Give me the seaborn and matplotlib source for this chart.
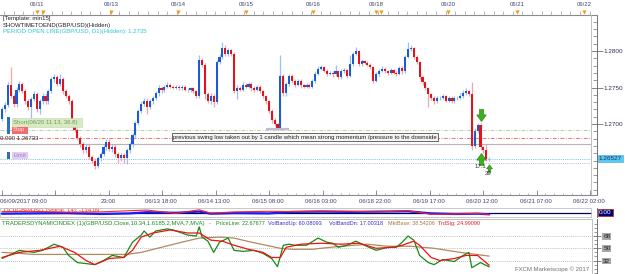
import numpy as np
import pandas as pd
import matplotlib
matplotlib.use("Agg")
import matplotlib.pyplot as plt
from matplotlib.patches import Rectangle
import seaborn as sns

sns.set_style("white")
plt.rcParams['font.family'] = ['Liberation Sans', 'DejaVu Sans']

# GBP/USD hourly candles (open of each bar = previous close)
first_open = 1.2707
closes = [1.2720, 1.2726, 1.2753, 1.2738, 1.2727, 1.2747, 1.2755, 1.2745, 1.2731, 1.2723,
          1.2734, 1.2741, 1.2720, 1.2731, 1.2739, 1.2731, 1.2745, 1.2761, 1.2764, 1.2755,
          1.2762, 1.2745, 1.2738, 1.2731, 1.2701, 1.2692, 1.2681, 1.2673, 1.2664, 1.2669,
          1.2655, 1.2650, 1.2643, 1.2653, 1.2659, 1.2668, 1.2676, 1.2666, 1.2669, 1.2659,
          1.2654, 1.2658, 1.2653, 1.2664, 1.2672, 1.2685, 1.2701, 1.2718, 1.2728, 1.2732,
          1.2723, 1.2731, 1.2736, 1.2742, 1.2750, 1.2746, 1.2751, 1.2754, 1.2751, 1.2750,
          1.2751, 1.2749, 1.2751, 1.2747, 1.2746, 1.2749, 1.2745, 1.2739, 1.2788, 1.2781,
          1.2741, 1.2732, 1.2739, 1.2730, 1.2785, 1.2792, 1.2804, 1.2796, 1.2801, 1.2796,
          1.2745, 1.2750, 1.2747, 1.2754, 1.2751, 1.2755, 1.2750, 1.2747, 1.2751, 1.2745,
          1.2738, 1.2731, 1.2718, 1.2705, 1.2700, 1.2695, 1.2766, 1.2742, 1.2755, 1.2766,
          1.2759, 1.2754, 1.2759, 1.2753, 1.2751, 1.2754, 1.2751, 1.2759, 1.2769, 1.2776,
          1.2778, 1.2773, 1.2769, 1.2770, 1.2768, 1.2772, 1.2764, 1.2773, 1.2774, 1.2766,
          1.2782, 1.2796, 1.2800, 1.2782, 1.2786, 1.2784, 1.2781, 1.2778, 1.2759, 1.2768,
          1.2773, 1.2776, 1.2772, 1.2770, 1.2774, 1.2770, 1.2769, 1.2777, 1.2772, 1.2792,
          1.2803, 1.2804, 1.2792, 1.2785, 1.2764, 1.2757, 1.2749, 1.2741, 1.2736, 1.2731,
          1.2735, 1.2736, 1.2738, 1.2732, 1.2736, 1.2731, 1.2735, 1.2736, 1.2738, 1.2742,
          1.2745, 1.2741, 1.2670, 1.2691, 1.2699, 1.2668, 1.2664, 1.2652, 1.26527]
highs = [1.2724, 1.2730, 1.2757, 1.2778, 1.2741, 1.2751, 1.2759, 1.2758, 1.2748, 1.2734,
         1.2737, 1.2745, 1.2744, 1.2734, 1.2743, 1.2742, 1.2748, 1.2765, 1.2768, 1.2767,
         1.2768, 1.2765, 1.2748, 1.2741, 1.2734, 1.2704, 1.2695, 1.2684, 1.2676, 1.2672,
         1.2672, 1.2658, 1.2653, 1.2656, 1.2662, 1.2671, 1.2680, 1.2679, 1.2672, 1.2672,
         1.2662, 1.2661, 1.2661, 1.2667, 1.2675, 1.2688, 1.2704, 1.2721, 1.2732, 1.2736,
         1.2735, 1.2734, 1.2739, 1.2745, 1.2753, 1.2752, 1.2754, 1.2757, 1.2756, 1.2753,
         1.2753, 1.2753, 1.2754, 1.2753, 1.2749, 1.2751, 1.2751, 1.2747, 1.2795, 1.2790,
         1.2783, 1.2744, 1.2742, 1.2741, 1.2788, 1.2796, 1.2812, 1.2808, 1.2804, 1.2803,
         1.2798, 1.2753, 1.2752, 1.2757, 1.2756, 1.2758, 1.2757, 1.2752, 1.2754, 1.2753,
         1.2747, 1.2740, 1.2733, 1.2720, 1.2708, 1.2702, 1.2795, 1.2768, 1.2758, 1.2769,
         1.2768, 1.2761, 1.2762, 1.2761, 1.2755, 1.2756, 1.2756, 1.2762, 1.2772, 1.2779,
         1.2781, 1.2780, 1.2775, 1.2773, 1.2772, 1.2781, 1.2774, 1.2776, 1.2777, 1.2776,
         1.2795, 1.2799, 1.2805, 1.2802, 1.2789, 1.2788, 1.2786, 1.2783, 1.2780, 1.2771,
         1.2776, 1.2779, 1.2778, 1.2774, 1.2777, 1.2776, 1.2772, 1.2780, 1.2779, 1.2795,
         1.2812, 1.2808, 1.2806, 1.2794, 1.2787, 1.2766, 1.2759, 1.2751, 1.2743, 1.2738,
         1.2738, 1.2739, 1.2741, 1.2740, 1.2739, 1.2738, 1.2738, 1.2739, 1.2742, 1.2746,
         1.2749, 1.2747, 1.2758, 1.2694, 1.2702, 1.2701, 1.2670, 1.2673, 1.2655]
lows = [1.2704, 1.2717, 1.2723, 1.2735, 1.2723, 1.2724, 1.2744, 1.2742, 1.2727, 1.2719,
        1.2708, 1.2731, 1.2716, 1.2714, 1.2728, 1.2727, 1.2728, 1.2742, 1.2758, 1.2752,
        1.2752, 1.2741, 1.2735, 1.2727, 1.2698, 1.2689, 1.2678, 1.2669, 1.2660, 1.2661,
        1.2652, 1.2646, 1.2639, 1.2640, 1.2650, 1.2656, 1.2665, 1.2663, 1.2662, 1.2655,
        1.2646, 1.2650, 1.2646, 1.2645, 1.2661, 1.2669, 1.2682, 1.2698, 1.2715, 1.2725,
        1.2714, 1.2720, 1.2728, 1.2733, 1.2739, 1.2743, 1.2744, 1.2749, 1.2749, 1.2748,
        1.2748, 1.2747, 1.2747, 1.2745, 1.2744, 1.2744, 1.2743, 1.2736, 1.2736, 1.2778,
        1.2734, 1.2729, 1.2728, 1.2724, 1.2727, 1.2782, 1.2789, 1.2793, 1.2793, 1.2793,
        1.2742, 1.2734, 1.2745, 1.2745, 1.2749, 1.2749, 1.2745, 1.2744, 1.2745, 1.2742,
        1.2735, 1.2728, 1.2715, 1.2702, 1.2697, 1.2692, 1.2693, 1.2739, 1.2739, 1.2752,
        1.2756, 1.2751, 1.2752, 1.2750, 1.2749, 1.2749, 1.2749, 1.2749, 1.2756, 1.2767,
        1.2774, 1.2771, 1.2766, 1.2767, 1.2765, 1.2766, 1.2761, 1.2762, 1.2770, 1.2763,
        1.2764, 1.2780, 1.2794, 1.2779, 1.2780, 1.2782, 1.2779, 1.2776, 1.2756, 1.2757,
        1.2766, 1.2771, 1.2770, 1.2767, 1.2768, 1.2768, 1.2766, 1.2767, 1.2769, 1.2770,
        1.2790, 1.2800, 1.2789, 1.2782, 1.2761, 1.2754, 1.2746, 1.2724, 1.2733, 1.2728,
        1.2729, 1.2733, 1.2734, 1.2730, 1.2730, 1.2729, 1.2729, 1.2733, 1.2734, 1.2736,
        1.2740, 1.2739, 1.2664, 1.2667, 1.2688, 1.2665, 1.2661, 1.2650, 1.2650]

# trade / drawing levels
short_price = 1.26919
stop_price = 1.26806
swing_line = 1.26733
last_price = 1.26527
limit_price = 1.26460
price_ticks = [1.2800, 1.2750, 1.2700]

# signal arrows (bar index, price)
sell_idx, sell_px = [165], [1.27122]
buy_idx, buy_px = [165], [1.26527]
buy2_idx, buy2_px = [168], [1.26392]

# OCI strip
oci_idx = [0, 10, 22, 34, 44, 50, 60, 68, 72, 80, 92, 100, 110, 120, 130, 140, 148, 156, 164, 168]
oci_blue = [-0.4, -0.3, -0.2, -0.5, -0.3, 0.1, -0.1, 0.3, -0.4, -0.2, -0.3, 0.2, 0.3, 0.2, 0.3, 0.4, -0.3, -0.5, -0.4, -0.6]
oci_red = [0.3, 0.4, 0.1, 0.2, 0.6, 0.8, -0.3, 0.9, -0.2, 0.2, 0.4, 0.3, 0.5, 0.4, 0.2, 0.6, -0.6, -0.5, -0.3, -0.7]

# Traders Dynamic Index
price_idx = [0, 6, 11, 14, 18, 21, 23, 26, 29, 32, 35, 38, 42, 43, 45, 48, 49, 51, 53, 57, 59, 64, 67, 68,
             69, 71, 73, 75, 78, 80, 83, 87, 90, 93, 95, 97, 99, 101, 105, 109, 112, 114, 116, 119, 122,
             125, 129, 133, 136, 138, 140, 142, 144, 147, 149, 152, 156, 159, 161, 162, 165, 168]
price_line = [35, 47, 44, 47, 56, 51.5, 39.5, 29, 27.5, 26, 32, 39.5, 36.5, 44, 59, 69.5, 75.5, 66.5, 75.5,
              78.5, 77, 69.5, 68, 81.5, 66.5, 60.5, 44, 59, 65, 47, 45.5, 47, 42.5, 35, 23, 54.5, 56, 54.5,
              54.5, 65, 59, 57.5, 51.5, 54.5, 60.5, 54.5, 47, 51.5, 51.5, 59, 68, 62, 39.5, 29, 26, 33.5,
              30.5, 39.5, 44, 21.5, 29, 22.7]
sig_idx = [0, 6, 13, 20, 25, 29, 32, 37, 42, 45, 48, 52, 58, 64, 68, 72, 76, 80, 85, 90, 93, 96, 98, 103,
           110, 117, 123, 129, 135, 138, 142, 144, 148, 151, 156, 160, 164, 168]
trade_sig = [36.5, 44, 47, 53, 44, 32, 26, 35, 36.5, 47, 66.5, 72.5, 77, 72.5, 72.5, 62, 60.5, 54.5, 48.5,
             44, 36.5, 36.5, 51.5, 56, 57.5, 56, 57.5, 50, 51.5, 54.5, 60.5, 54.5, 36.5, 32, 35, 39.5,
             39.5, 25.0]
base_idx = [0, 6, 11, 22, 34, 43, 48, 55, 62, 68, 75, 80, 86, 91, 96, 100, 107, 110, 117, 126, 133, 141,
            149, 158, 168]
mkt_base = [44, 42.5, 41, 41, 41, 41, 44, 51.5, 59, 65, 66.5, 65, 59, 54.5, 50, 48.5, 48.5, 50, 53, 56, 53,
            53, 50, 44, 38.5]
tdi_levels = [32, 50, 68]

top_dates = ["06/11", "06/13", "06/14", "06/15", "06/16", "06/18", "06/20", "06/21", "06/22"]
top_date_px = [37, 111, 178, 246, 313, 376, 448, 517, 584]
extra_marks_px = [43, 381]
time_labels = ["23:00", "06/13 18:00", "06/14 13:00", "06/15 08:00", "06/16 03:00",
               "06/18 22:00", "06/19 17:00", "06/20 12:00", "06/21 07:00", "06/22 02:00"]
time_px = [108, 161, 214, 268, 321, 375, 429, 482, 536, 589]

FS = 4.3
W, H = 625, 274
fig = plt.figure(figsize=(W / 100, H / 100), dpi=100)


def rect(x0, y0, x1, y1):
    return [x0 / W, 1 - y1 / H, (x1 - x0) / W, (y1 - y0) / H]


XL = (-2 / 2.9, 595 / 2.9)
ax = fig.add_axes(rect(0, 14.5, 597, 195))
oci = fig.add_axes(rect(0, 208, 597, 217))
tdi = fig.add_axes(rect(0, 219, 597, 274))
ov = fig.add_axes([0, 0, 1, 1], zorder=10)
ov.set_xlim(0, W)
ov.set_ylim(H, 0)
ov.axis("off")
ov.patch.set_alpha(0)

# ---- candles ----
df = pd.DataFrame({"i": np.arange(len(closes)), "open": [first_open] + closes[:-1],
                   "close": closes, "high": highs, "low": lows})
up = df["close"] >= df["open"]
ax.vlines(df["i"], df["low"], df["high"], colors=np.where(up, "#9dbff0", "#f4a3a6"), lw=0.9, zorder=2)
body = (df["close"] - df["open"]).abs().clip(lower=0.00007)
ax.bar(df["i"], body, bottom=df[["open", "close"]].min(axis=1), width=0.75,
       color=np.where(up, "#1d5bd0", "#e5121b"), lw=0, zorder=3)
ax.set_xlim(*XL)
ax.set_ylim(1.26028, 1.28466)

xm = 591 / 597
ax.axhline(short_price, xmax=xm, color="#c4cca4", lw=0.7, ls=(0, (4, 1.5, 1, 1.5)), zorder=1)
ax.axhline(stop_price, xmax=xm, color="#f07474", lw=0.7, ls=(0, (4, 1.5, 1, 1.5)), zorder=1)
ax.axhline(swing_line, xmax=xm, color="#b4b4b4", lw=0.8, zorder=1)
ax.axhline(last_price, xmax=xm, color="#6cc4ea", lw=0.7, ls=(0, (1, 1.2)), zorder=1)
ax.axhline(limit_price, xmax=xm, color="#c8aede", lw=0.7, ls=(0, (1, 1.2)), zorder=1)
ax.hlines(1.2693, 91, 99, color="#b8c2d4", lw=1.6, zorder=1)

down_arrow = [(-0.35, 1), (0.35, 1), (0.35, 0.1), (0.8, 0.1), (0, -1), (-0.8, 0.1), (-0.35, 0.1), (-0.35, 1)]
up_arrow = [(x, -y) for x, y in down_arrow]
ax.scatter(sell_idx, sell_px, marker=down_arrow, s=75, c="#3cb01e", edgecolors="#1f7a10", lw=0.4, zorder=6)
ax.scatter(buy_idx, buy_px, marker=up_arrow, s=75, c="#3cb01e", edgecolors="#1f7a10", lw=0.4, zorder=6)
ax.scatter(buy2_idx, buy2_px, marker=up_arrow, s=28, c="#3cb01e", edgecolors="#1f7a10", lw=0.4, zorder=6)

for s in ["top", "left", "bottom"]:
    ax.spines[s].set_visible(False)
ax.spines["right"].set_color("#707070")
ax.spines["right"].set_linewidth(0.7)
ax.set_xticks([])
ax.yaxis.tick_right()
ax.set_yticks(price_ticks)
ax.set_yticklabels(["%.4f" % p for p in price_ticks])
ax.set_yticks(np.arange(1.2610, 1.2850, 0.001), minor=True)
ax.tick_params(axis="y", which="major", direction="inout", length=8, width=0.6, color="#707070",
               labelsize=FS + 0.3, labelcolor="#303060", pad=0.5)
ax.tick_params(axis="y", which="minor", direction="in", length=3, width=0.5, color="#707070")
ax.text(1.003, last_price, "1.26527", transform=ax.get_yaxis_transform(), fontsize=FS + 0.3,
        color="#10305a", va="center", ha="left",
        bbox=dict(boxstyle="square,pad=0.15", fc="#5cc8f2", ec="#3aa8e0", lw=0.4))

# ---- OCI strip ----
sns.lineplot(x=oci_idx, y=oci_blue, color="#1a1aff", lw=1.6, ax=oci, zorder=3)
sns.lineplot(x=oci_idx, y=oci_red, color="#ff2020", lw=0.8, ax=oci, zorder=3)
oci.axhline(0, xmax=xm, color="#000050", lw=0.9, zorder=2)
oci.text(4, 210.8, "OCI(GBP/USD,Typical, 14): -134.09", transform=ov.transData, fontsize=FS,
         color="#e02020", va="center", zorder=1)
oci.set_xlim(*XL)
oci.set_ylim(-1.5, 1.5)
oci.set_xticks([])
oci.set_yticks([])
oci.set_xlabel("")
oci.set_ylabel("")
for s in ["top", "left", "bottom"]:
    oci.spines[s].set_visible(False)
oci.spines["right"].set_color("#707070")
oci.spines["right"].set_linewidth(0.7)
oci.text(1.003, 0, "0.00", transform=oci.get_yaxis_transform(), fontsize=FS + 0.3, color="white",
         va="center", ha="left", bbox=dict(boxstyle="square,pad=0.2", fc="#000070", ec="#b03030", lw=0.6))

# ---- TDI ----
for lv in tdi_levels:
    tdi.axhline(lv, xmax=592 / 597, color="#a8a8a8", lw=0.6, ls=(0, (1, 1.5)), zorder=1)
sns.lineplot(x=base_idx, y=mkt_base, color="#b08a60", lw=0.9, ax=tdi, zorder=2)
sns.lineplot(x=price_idx, y=price_line, color="#158a15", lw=0.9, ax=tdi, zorder=3)
sns.lineplot(x=sig_idx, y=trade_sig, color="#f01010", lw=0.9, ax=tdi, zorder=4)
tdi.set_xlim(*XL)
tdi.set_ylim(12.2, 93.1)
tdi.set_xticks([])
tdi.set_xlabel("")
tdi.set_ylabel("")
for s in ["top", "left", "bottom"]:
    tdi.spines[s].set_visible(False)
tdi.spines["right"].set_color("#707070")
tdi.spines["right"].set_linewidth(0.7)
tdi.yaxis.tick_right()
tdi.set_yticks(tdi_levels)
tdi.set_yticks(np.arange(14, 92, 6), minor=True)
tdi.tick_params(axis="y", which="major", direction="inout", length=6, width=0.6, color="#707070",
                labelsize=FS + 0.3, labelcolor="#202020", pad=1.5)
tdi.tick_params(axis="y", which="minor", direction="in", length=2.5, width=0.5, color="#707070")
for lbl in tdi.get_yticklabels():
    lbl.set_bbox(dict(boxstyle="square,pad=0.15", fc="#a8a8a8", ec="none"))

# ---- overlay: rulers, frames, text ----
grey = "#8a8a8a"
ov.plot([0, 597], [14.5, 14.5], color=grey, lw=0.8)
ov.vlines(np.arange(4, 597, 9.6), 11, 14.5, color="#9a9a9a", lw=0.5)
ov.scatter(top_date_px + extra_marks_px, [12] * (len(top_date_px) + len(extra_marks_px)),
           marker="v", s=9, color="#f29a10", lw=0, zorder=5)
for x, s in zip(top_date_px, top_dates):
    ov.text(x, 4.5, s, fontsize=FS, color="#404070", ha="center", va="center")

ov.plot([591, 591], [14.5, 195], color="#c0c0c0", lw=0.7)
ov.plot([0, 597], [195, 195], color=grey, lw=0.8)
ov.vlines(np.arange(2, 597, 53.45 / 6), 192.5, 195, color="#9a9a9a", lw=0.5)
ov.vlines(np.arange(2, 597, 53.45), 190, 195, color="#808080", lw=0.6)
ov.text(0, 201.5, "06/09/2017 09:00", fontsize=FS, color="#404070", ha="left", va="center")
for x, s in zip(time_px, time_labels):
    ov.text(x, 201.5, s, fontsize=FS, color="#404070", ha="center", va="center")

ov.add_patch(Rectangle((0, 208), 591, 9, fill=False, ec="#c0c0c0", lw=0.6))
ov.plot([0, 592], [219, 219], color="#c0c0c0", lw=0.7)
ov.plot([592, 592], [219, 274], color="#c0c0c0", lw=0.7)

ov.text(3, 18.8, "[Template: min15]", fontsize=FS, color="#202020", va="center")
ov.text(3, 25, "SHOWTIMETOEND(GBP/USD)(Hidden)", fontsize=FS, color="#202020", va="center")
ov.text(3, 31.2, "PERIOD OPEN LINE(GBP/USD, D1)(Hidden): 1.2735", fontsize=FS, color="#2cc6d6", va="center")

# order labels on the left
ov.add_patch(Rectangle((6.5, 117), 3.5, 17, color="#2f6fc4", lw=0))
ov.add_patch(Rectangle((6.5, 152), 3.5, 7, color="#2f6fc4", lw=0))
ov.add_patch(Rectangle((12, 118), 70, 8.5, fc="#d7ebc2", ec="#c0d8a8", lw=0.4))
ov.text(13, 122.3, "Short(06/20 11:13, 36.8)", fontsize=FS, color="#7a9460", va="center")
ov.add_patch(Rectangle((12, 126.5), 16, 7, fc="#f26a6a", lw=0))
ov.text(13, 130, "Stop", fontsize=FS, color="#ffe8e8", va="center")
ov.add_patch(Rectangle((12, 152), 16, 7, fc="#e4cdf2", lw=0))
ov.text(13, 155.5, "Limit", fontsize=FS, color="#a080c0", va="center")
ov.text(0, 139, "0.000 1.26733", fontsize=FS, color="#303030", va="center")

ov.text(173, 137, "previous swing low taken out by 1 candle which mean strong momentum /pressure to the downside",
        fontsize=FS, color="#202020", va="center",
        bbox=dict(boxstyle="square,pad=0.2", fc="#f4f4f4", ec="#505050", lw=0.6))
ov.text(480, 167, "17.1", fontsize=FS, color="#303030", ha="center", va="center")
ov.text(488.5, 173.5, "39", fontsize=FS, color="#303030", ha="center", va="center")

# TDI header, piece by piece
HF = 4.0
ov.text(2, 223.5, "TRADERSDYNAMICINDEX (1)(GBP/USD,Close,10,34,1.6185,2,MVA,7,MVA)",
        fontsize=4.25, color="#1c8a1c", va="center")
ov.text(209, 223.5, "-", fontsize=HF, color="#1c8a1c", va="center")
ov.text(216, 223.5, "PriceLine: 22.67677", fontsize=HF, color="#1c8a1c", va="center")
ov.text(268, 223.5, "VolBandUp: 60.08093", fontsize=HF, color="#3030c8", va="center")
ov.text(329, 223.5, "VolBandDn: 17.00318", fontsize=HF, color="#3030c8", va="center")
ov.text(388, 223.5, "MktBase: 38.54206", fontsize=3.9, color="#a07840", va="center")
ov.text(438, 223.5, "TrdSig: 24.99090", fontsize=HF, color="#e02020", va="center")
ov.text(589, 269, "FXCM Marketscope \u00a9 2017", fontsize=FS, color="#707070", ha="right", va="center")

fig.savefig("out.png", dpi=100, facecolor="white")
